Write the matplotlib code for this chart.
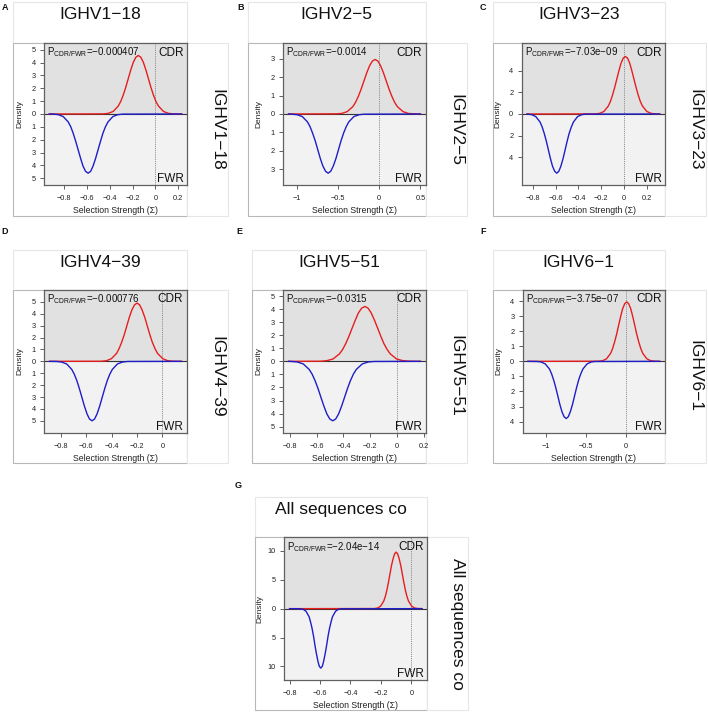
import matplotlib
matplotlib.use('Agg')
import numpy as np
import matplotlib.pyplot as plt
from matplotlib.patches import Rectangle

plt.rcParams['font.family'] = ['Liberation Sans', 'DejaVu Sans']
plt.rcParams['mathtext.fontset'] = 'custom'
plt.rcParams['mathtext.rm'] = 'Liberation Sans'
plt.rcParams['mathtext.it'] = 'Liberation Sans:italic'
plt.rcParams['mathtext.bf'] = 'Liberation Sans:bold'

# ---------------- data ----------------
panel_letters = ['A', 'B', 'C', 'D', 'E', 'F', 'G']
gene_names = ['IGHV1−18', 'IGHV2−5', 'IGHV3−23', 'IGHV4−39', 'IGHV5−51',
              'IGHV6−1', 'All sequences co']
p_values = ['−0.000407', '−0.0014', '−7.03e−09', '−0.000776', '−0.0315',
            '−3.75e−07', '−2.04e−14']
x_start = [-0.93, -1.10, -0.85, -0.89, -0.81, -1.23, -0.80]
x_end = [0.23, 0.50, 0.31, 0.15, 0.175, 0.425, 0.07]

xticks = [[-0.8, -0.6, -0.4, -0.2, 0, 0.2],
          [-1, -0.5, 0, 0.5],
          [-0.8, -0.6, -0.4, -0.2, 0, 0.2],
          [-0.8, -0.6, -0.4, -0.2, 0],
          [-0.8, -0.6, -0.4, -0.2, 0, 0.2],
          [-1, -0.5, 0],
          [-0.8, -0.6, -0.4, -0.2, 0]]
ytick_max = [5, 3, 4, 5, 5, 4, 10]
ytick_step = [1, 1, 2, 1, 1, 1, 5]

cdr_x_A = [-0.458, -0.414, -0.370, -0.326, -0.304, -0.282, -0.260, -0.238, -0.216, -0.194, -0.172, -0.150,
           -0.128, -0.106, -0.084, -0.062, -0.040, -0.018, 0.004, 0.026, 0.070, 0.114, 0.158]
cdr_y_A = [0.01, 0.05, 0.20, 0.62, 0.98, 1.48, 2.08, 2.76, 3.43, 4.02, 4.41, 4.55,
           4.41, 4.02, 3.43, 2.76, 2.08, 1.48, 0.98, 0.62, 0.20, 0.05, 0.01]
fwr_x_A = [-0.895, -0.851, -0.808, -0.764, -0.742, -0.721, -0.699, -0.677, -0.655, -0.634, -0.612, -0.590,
           -0.568, -0.547, -0.525, -0.503, -0.481, -0.460, -0.438, -0.416, -0.373, -0.329, -0.286]
fwr_y_A = [0.01, 0.05, 0.20, 0.62, 0.99, 1.49, 2.11, 2.79, 3.47, 4.06, 4.46, 4.60,
           4.46, 4.06, 3.47, 2.79, 2.11, 1.49, 0.99, 0.62, 0.20, 0.05, 0.01]

cdr_x_B = [-0.523, -0.455, -0.388, -0.320, -0.286, -0.253, -0.219, -0.185, -0.151, -0.118, -0.084, -0.050,
           -0.016, 0.018, 0.051, 0.085, 0.119, 0.153, 0.186, 0.220, 0.288, 0.355, 0.423]
cdr_y_B = [0.01, 0.03, 0.13, 0.40, 0.64, 0.96, 1.35, 1.79, 2.23, 2.60, 2.86, 2.95,
           2.86, 2.60, 2.23, 1.79, 1.35, 0.96, 0.64, 0.40, 0.13, 0.03, 0.01]
fwr_x_B = [-1.058, -0.995, -0.933, -0.870, -0.839, -0.808, -0.776, -0.745, -0.714, -0.683, -0.651, -0.620,
           -0.589, -0.558, -0.526, -0.495, -0.464, -0.433, -0.401, -0.370, -0.308, -0.245, -0.183]
fwr_y_B = [0.01, 0.04, 0.14, 0.43, 0.69, 1.04, 1.46, 1.94, 2.42, 2.82, 3.10, 3.20,
           3.10, 2.82, 2.42, 1.94, 1.46, 1.04, 0.69, 0.43, 0.14, 0.04, 0.01]

cdr_x_C = [-0.253, -0.215, -0.178, -0.140, -0.121, -0.103, -0.084, -0.065, -0.046, -0.028, -0.009, 0.010,
           0.029, 0.048, 0.066, 0.085, 0.104, 0.123, 0.141, 0.160, 0.198, 0.235, 0.273]
cdr_y_C = [0.01, 0.06, 0.23, 0.72, 1.15, 1.72, 2.43, 3.21, 4.00, 4.68, 5.14, 5.30,
           5.14, 4.68, 4.00, 3.21, 2.43, 1.72, 1.15, 0.72, 0.23, 0.06, 0.01]
fwr_x_C = [-0.846, -0.809, -0.773, -0.736, -0.718, -0.700, -0.681, -0.663, -0.645, -0.627, -0.608, -0.590,
           -0.572, -0.554, -0.535, -0.517, -0.499, -0.481, -0.462, -0.444, -0.408, -0.371, -0.335]
fwr_y_C = [0.01, 0.06, 0.24, 0.74, 1.18, 1.77, 2.50, 3.31, 4.11, 4.81, 5.28, 5.45,
           5.28, 4.81, 4.11, 3.31, 2.50, 1.77, 1.18, 0.74, 0.24, 0.06, 0.01]

cdr_x_D = [-0.484, -0.443, -0.403, -0.362, -0.342, -0.322, -0.301, -0.281, -0.261, -0.241, -0.220, -0.200,
           -0.180, -0.160, -0.139, -0.119, -0.099, -0.079, -0.058, -0.038, 0.003, 0.043, 0.084]
cdr_y_D = [0.01, 0.05, 0.22, 0.66, 1.06, 1.59, 2.24, 2.97, 3.70, 4.32, 4.75, 4.90,
           4.75, 4.32, 3.70, 2.97, 2.24, 1.59, 1.06, 0.66, 0.22, 0.05, 0.01]
fwr_x_D = [-0.835, -0.795, -0.755, -0.715, -0.695, -0.675, -0.655, -0.635, -0.615, -0.595, -0.575, -0.555,
           -0.535, -0.515, -0.495, -0.475, -0.455, -0.435, -0.415, -0.395, -0.355, -0.315, -0.275]
fwr_y_D = [0.01, 0.06, 0.22, 0.68, 1.08, 1.62, 2.29, 3.03, 3.77, 4.41, 4.85, 5.00,
           4.85, 4.41, 3.77, 3.03, 2.29, 1.62, 1.08, 0.68, 0.22, 0.06, 0.01]

cdr_x_E = [-0.573, -0.525, -0.478, -0.430, -0.406, -0.383, -0.359, -0.335, -0.311, -0.288, -0.264, -0.240,
           -0.216, -0.193, -0.169, -0.145, -0.121, -0.098, -0.074, -0.050, -0.003, 0.045, 0.093]
cdr_y_E = [0.01, 0.05, 0.18, 0.57, 0.91, 1.36, 1.92, 2.55, 3.17, 3.71, 4.07, 4.20,
           4.07, 3.71, 3.17, 2.55, 1.92, 1.36, 0.91, 0.57, 0.18, 0.05, 0.01]
fwr_x_E = [-0.788, -0.744, -0.700, -0.656, -0.634, -0.612, -0.590, -0.568, -0.546, -0.524, -0.502, -0.480,
           -0.458, -0.436, -0.414, -0.392, -0.370, -0.348, -0.326, -0.304, -0.260, -0.216, -0.172]
fwr_y_E = [0.01, 0.05, 0.20, 0.62, 0.98, 1.48, 2.08, 2.76, 3.43, 4.02, 4.41, 4.55,
           4.41, 4.02, 3.43, 2.76, 2.08, 1.48, 0.98, 0.62, 0.20, 0.05, 0.01]

cdr_x_F = [-0.344, -0.293, -0.243, -0.192, -0.167, -0.142, -0.116, -0.091, -0.066, -0.041, -0.015, 0.010,
           0.035, 0.061, 0.086, 0.111, 0.136, 0.162, 0.187, 0.212, 0.263, 0.313, 0.364]
cdr_y_F = [0.01, 0.04, 0.17, 0.53, 0.85, 1.28, 1.81, 2.40, 2.98, 3.49, 3.83, 3.95,
           3.83, 3.49, 2.98, 2.40, 1.81, 1.28, 0.85, 0.53, 0.17, 0.04, 0.01]
fwr_x_F = [-1.118, -1.065, -1.013, -0.960, -0.934, -0.908, -0.881, -0.855, -0.829, -0.803, -0.776, -0.750,
           -0.724, -0.698, -0.671, -0.645, -0.619, -0.593, -0.566, -0.540, -0.488, -0.435, -0.383]
fwr_y_F = [0.01, 0.04, 0.17, 0.51, 0.82, 1.23, 1.74, 2.30, 2.87, 3.35, 3.68, 3.80,
           3.68, 3.35, 2.87, 2.30, 1.74, 1.23, 0.82, 0.51, 0.17, 0.04, 0.01]

cdr_x_G = [-0.242, -0.222, -0.202, -0.181, -0.171, -0.161, -0.151, -0.141, -0.131, -0.120, -0.110, -0.100,
           -0.090, -0.080, -0.069, -0.059, -0.049, -0.039, -0.029, -0.019, 0.002, 0.022, 0.042]
cdr_y_G = [0.02, 0.11, 0.43, 1.33, 2.12, 3.18, 4.49, 5.94, 7.40, 8.65, 9.50, 9.80,
           9.50, 8.65, 7.40, 5.94, 4.49, 3.18, 2.12, 1.33, 0.43, 0.11, 0.02]
fwr_x_G = [-0.730, -0.711, -0.692, -0.672, -0.663, -0.653, -0.643, -0.634, -0.624, -0.614, -0.605, -0.595,
           -0.585, -0.576, -0.566, -0.556, -0.547, -0.537, -0.527, -0.518, -0.498, -0.479, -0.460]
fwr_y_G = [0.02, 0.11, 0.45, 1.39, 2.23, 3.34, 4.72, 6.25, 7.77, 9.09, 9.98, 10.30,
           9.98, 9.09, 7.77, 6.25, 4.72, 3.34, 2.23, 1.39, 0.45, 0.11, 0.02]

cdr_x = [cdr_x_A, cdr_x_B, cdr_x_C, cdr_x_D, cdr_x_E, cdr_x_F, cdr_x_G]
cdr_y = [cdr_y_A, cdr_y_B, cdr_y_C, cdr_y_D, cdr_y_E, cdr_y_F, cdr_y_G]
fwr_x = [fwr_x_A, fwr_x_B, fwr_x_C, fwr_x_D, fwr_x_E, fwr_x_F, fwr_x_G]
fwr_y = [fwr_y_A, fwr_y_B, fwr_y_C, fwr_y_D, fwr_y_E, fwr_y_F, fwr_y_G]

# ---------------- layout (pixels) ----------------
# ox, axL, axR, titleTop, axTop, axBot, outBot, letter_x, letter_y
layout = [
    (13, 44, 187, 2, 43, 185, 216, 5, 7),
    (248, 283.3, 425.7, 2, 43, 185, 216, 240.5, 7),
    (492.7, 521.7, 665, 2, 43, 185, 216, 482.5, 7),
    (13.3, 44.3, 186.7, 250, 290, 432.7, 462.7, 4.5, 231),
    (252.3, 283.3, 425.7, 250, 290, 432.7, 462.7, 239.5, 231),
    (492.7, 522.7, 665, 250, 290, 432.7, 462.7, 483, 231),
    (255, 284.3, 427.3, 496.7, 537.3, 680, 710, 238.5, 485.5),
]
STRIP_W = 41

W, H = 708, 712
fig = plt.figure(figsize=(W / 100, H / 100), dpi=100)
fig.patch.set_facecolor('white')

RED = '#e61e1e'
BLUE = '#1e1ec8'


def fx(x):
    return x / W


def fy(y):
    return 1 - y / H


def box(x0, y0, x1, y1, ec, lw=0.8, fc='white'):
    fig.add_artist(Rectangle((fx(x0), fy(y1)), (x1 - x0) / W, (y1 - y0) / H,
                             transform=fig.transFigure, fc=fc, ec=ec, lw=lw,
                             zorder=-5))


def fmt(v):
    s = '%g' % abs(v)
    return ('−' + s) if v < 0 else s


for i in range(7):
    ox, axL, axR, tT, aT, aB, oB, lx, ly = layout[i]
    box(ox, tT, axR, aT - 0.5, '#e6e6e6')
    box(ox, aT, axR, oB, '#b8b8b8')
    box(axR, aT, axR + STRIP_W, oB, '#e6e6e6')

    ax = fig.add_axes([fx(axL), fy(aB), (axR - axL) / W, (aB - aT) / H])
    ymax = 1.2 * max(max(cdr_y[i]), max(fwr_y[i]))
    x0, x1 = x_start[i], x_end[i]
    pad = 0.04 * (x1 - x0)
    ax.set_xlim(x0 - pad, x1 + pad)
    ax.set_ylim(-ymax, ymax)
    ax.axhspan(0, ymax, color='#e1e1e1', lw=0, zorder=0)
    ax.axhspan(-ymax, 0, color='#f2f2f2', lw=0, zorder=0)
    ax.axvline(0, color='#808080', lw=0.7, ls=(0, (1, 1.2)), zorder=1)
    ax.axhline(0, color='#333333', lw=0.8, zorder=2)
    ax.plot([x0] + cdr_x[i] + [x1], [0] + cdr_y[i] + [0], color=RED, lw=1.0,
            zorder=3, solid_joinstyle='round')
    ax.plot([x0] + fwr_x[i] + [x1], [0] + [-v for v in fwr_y[i]] + [0],
            color=BLUE, lw=1.0, zorder=4, solid_joinstyle='round')

    ax.set_xticks(xticks[i])
    ax.set_xticklabels([fmt(v) for v in xticks[i]])
    yt = np.arange(-ytick_max[i], ytick_max[i] + ytick_step[i] / 2, ytick_step[i])
    ax.set_yticks(yt)
    ax.set_yticklabels([fmt(abs(v)) for v in yt])
    ax.tick_params(axis='both', direction='out', length=3, width=0.6,
                   colors='#444444', labelcolor='#222222', labelsize=5.3)
    ax.tick_params(axis='x', pad=4.5)
    ax.tick_params(axis='y', pad=3)
    for sp in ax.spines.values():
        sp.set_color('#606060')
        sp.set_linewidth(0.9)

    # texts
    fig.text(fx(ox + axR) / 2, fy(tT + 17), gene_names[i], ha='center',
             va='baseline', fontsize=12.5, color='#111111')
    fig.text(fx(axR + 30), fy((aT + oB) / 2), gene_names[i], ha='center',
             va='center', rotation=270, fontsize=12.5, color='#111111')
    fig.text(fx(lx), fy(ly), panel_letters[i], ha='center', va='center',
             fontsize=6.5, fontweight='bold', color='#111111')
    fig.text(fx(axL + 3), fy(aT + 2.5),
             r'P$_{\mathrm{CDR/FWR}}$=' + p_values[i], ha='left', va='top',
             fontsize=7, color='#111111')
    fig.text(fx(axR - 3.5), fy(aT + 3.5), 'CDR', ha='right', va='top',
             fontsize=8.5, color='#111111')
    fig.text(fx(axR - 3.5), fy(aB - 2.7), 'FWR', ha='right', va='baseline',
             fontsize=8.5, color='#111111')
    fig.text(fx(axL - 24), fy((aT + aB) / 2), 'Density', ha='center',
             va='center', rotation=90, fontsize=6, color='#222222')
    fig.text(fx(axL + axR) / 2, fy(aB + 25.7), 'Selection Strength (Σ)',
             ha='center', va='center', fontsize=6.3, color='#222222')

fig.savefig('out.png', dpi=100, facecolor='white')
